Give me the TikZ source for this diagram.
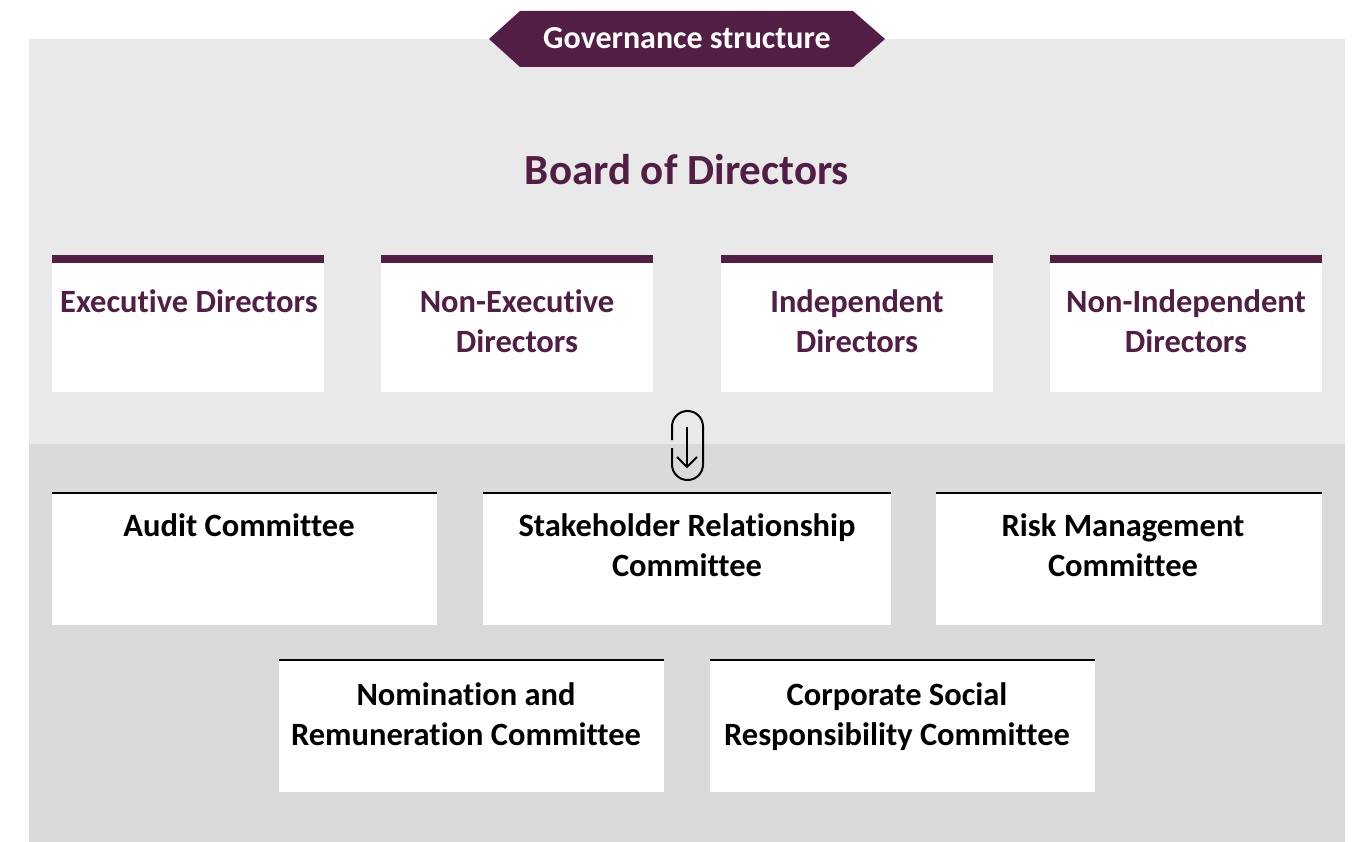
\documentclass[tikz,border=0pt]{standalone}
\usepackage{fontspec}
\setmainfont[Ligatures=NoCommon]{Carlito}
\definecolor{plum}{HTML}{521E45}
\definecolor{bgtop}{HTML}{E9E9E9}
\definecolor{bgbot}{HTML}{D9DADB}
\begin{document}
\begin{tikzpicture}[x=1pt,y=-1pt,
  box/.style={fill=white,draw=none,anchor=north west,inner sep=0pt,outer sep=0pt},
  lbl/.style={align=center,inner sep=0pt,font=\bfseries\fontsize{32.5}{40}\selectfont},
  plumlbl/.style={lbl,text=plum},
]
\useasboundingbox (0,0) rectangle (1354,842);
\fill[white] (0,0) rectangle (1354,842);
% background panels
\fill[bgtop] (29,39) rectangle (1345,444);
\fill[bgbot] (29,444) rectangle (1345,842);
% banner
\fill[plum] (489,39) -- (520,11) -- (853,11) -- (885,39) -- (853,67) -- (520,67) -- cycle;
\node[text=white,font=\bfseries\fontsize{32}{36}\selectfont,inner sep=0pt] (ban) at (687,38) {Governance structure};
% title
\node[text=plum,font=\bfseries\fontsize{43}{50}\selectfont,inner sep=0pt] (bod) at (687,170) {Board of Directors};
% director boxes
\foreach \n/\x in {d1/52,d2/381,d3/721,d4/1050}{
  \node[box,minimum width=272pt,minimum height=129pt] (\n) at (\x,263) {};
  \fill[plum] (\x,255) rectangle ({\x+272},263);
}
\node[plumlbl] (t1) at (189,301) {Executive Directors};
\node[plumlbl] (t2) at (517,321) {Non-Executive\\Directors};
\node[plumlbl] (t3) at (857,321) {Independent\\Directors};
\node[plumlbl] (t4) at (1186,321) {Non-Independent\\Directors};
% arrow icon
\draw[line width=2pt,rounded corners=15.5pt] (672,440) -- (672,411) -- (703,411) -- (703,480) -- (672,480) -- (672,448);
\draw[line width=2pt] (687,427) -- (687,467);
\draw[line width=2pt] (677,457) -- (687,467) -- (697,457);
% committee boxes
\foreach \n/\x/\y/\w in {c1/52/492/385,c2/483/492/408,c3/936/492/386,c4/279/659/385,c5/710/659/385}{
  \node[box,minimum width=\w pt,minimum height=133pt] (\n) at (\x,\y) {};
  \draw[line width=2.5pt] (\x,\y+1) -- ({\x+\w},\y+1);
}
\node[lbl] (u1) at (239,525) {Audit Committee};
\node[lbl] (u2) at (687,545) {Stakeholder Relationship\\Committee};
\node[lbl] (u3) at (1123,545) {Risk Management\\Committee};
\node[lbl] (u4) at (466,714) {Nomination and\\Remuneration Committee};
\node[lbl] (u5) at (897,717) {Corporate Social\\Responsibility Committee};
\end{tikzpicture}
\end{document}
